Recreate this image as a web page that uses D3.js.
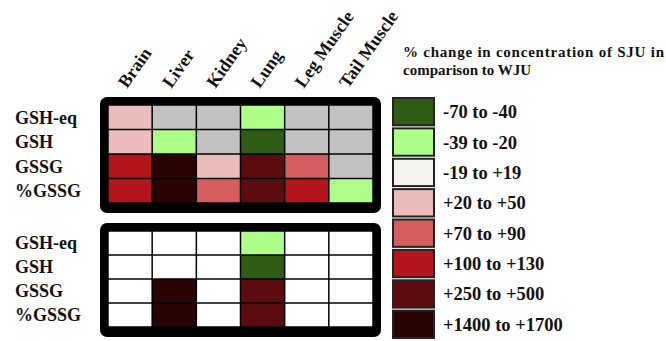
<!DOCTYPE html>
<html>
<head>
<meta charset="utf-8">
<script src="https://cdn.jsdelivr.net/npm/d3@7"></script>
</head>
<body style="margin:0">
<div id="chart"></div>
<script>
// data
var tissues = ["Brain", "Liver", "Kidney", "Lung", "Leg Muscle", "Tail Muscle"];
var measures = ["GSH-eq", "GSH", "GSSG", "%GSSG"];
var legendLabels = ["-70 to -40", "-39 to -20", "-19 to +19", "+20 to +50",
  "+70 to +90", "+100 to +130", "+250 to +500", "+1400 to +1700"];
var legendColors = ["#2e5c14", "#aeff8a", "#f4f3ee", "#ecbcbd",
  "#d55d5e", "#b2151b", "#5c0c0e", "#2a0304"];

// top panel: legend class per cell ("ns" = grey)
var topGSHeq = ["+20 to +50", "ns", "ns", "-39 to -20", "ns", "ns"];
var topGSH   = ["+20 to +50", "-39 to -20", "ns", "-70 to -40", "ns", "ns"];
var topGSSG  = ["+100 to +130", "+1400 to +1700", "+20 to +50", "+250 to +500", "+70 to +90", "ns"];
var topPGSSG = ["+100 to +130", "+1400 to +1700", "+70 to +90", "+250 to +500", "+100 to +130", "-39 to -20"];

// bottom panel ("none" = white)
var botGSHeq = ["none", "none", "none", "-39 to -20", "none", "none"];
var botGSH   = ["none", "none", "none", "-70 to -40", "none", "none"];
var botGSSG  = ["none", "+1400 to +1700", "none", "+250 to +500", "none", "none"];
var botPGSSG = ["none", "+1400 to +1700", "none", "+250 to +500", "none", "none"];

var width = 666, height = 341;

var svg = d3.select("#chart").append("svg")
  .attr("width", width)
  .attr("height", height);

var color = d3.scaleOrdinal()
  .domain(legendLabels.concat(["ns", "none"]))
  .range(legendColors.concat(["#c2c2c2", "#ffffff"]));

var x = d3.scaleBand()
  .domain(tissues)
  .range([108, 373]);

function label(sel, size) {
  return sel.attr("font-family", "'Liberation Serif'")
    .attr("font-weight", "bold")
    .attr("font-size", size)
    .attr("fill", "#111");
}

function toCells(rows) {
  var cells = [];
  rows.forEach(function(row, i) {
    row.forEach(function(v, j) {
      cells.push({measure: measures[i], tissue: tissues[j], value: v});
    });
  });
  return cells;
}

function drawPanel(rows, top, bottom) {
  var y = d3.scaleBand()
    .domain(measures)
    .range([top, bottom]);

  var g = svg.append("g");

  // thick black frame
  g.append("rect")
    .attr("x", x.range()[0] - 8)
    .attr("y", top - 8)
    .attr("width", x.range()[1] - x.range()[0] + 16)
    .attr("height", bottom - top + 18)
    .attr("rx", 7)
    .attr("fill", "#000");

  g.selectAll("rect.cell")
    .data(toCells(rows))
    .enter().append("rect")
    .attr("class", "cell")
    .attr("x", function(d) { return x(d.tissue) + 0.75; })
    .attr("y", function(d) { return y(d.measure) + 0.75; })
    .attr("width", x.bandwidth() - 1.5)
    .attr("height", y.bandwidth() - 1.5)
    .attr("fill", function(d) { return color(d.value); });

  g.selectAll("text.row")
    .data(measures)
    .enter().append("text")
    .attr("class", "row")
    .attr("x", 15)
    .attr("y", function(d) { return y(d) + y.bandwidth() / 2; })
    .attr("dy", "0.35em")
    .call(label, 18)
    .text(function(d) { return d; });
}

drawPanel([topGSHeq, topGSH, topGSSG, topPGSSG], 105, 203);
drawPanel([botGSHeq, botGSH, botGSSG, botPGSSG], 231, 327);

// column labels
svg.selectAll("text.col")
  .data(tissues)
  .enter().append("text")
  .attr("class", "col")
  .attr("transform", function(d) {
    return "translate(" + (x(d) + x.bandwidth() / 2 - 3) + ",89) rotate(-55)";
  })
  .call(label, 18)
  .text(function(d) { return d; });

// legend
var ly = d3.scaleBand()
  .domain(legendLabels)
  .range([98, 338])
  .paddingInner(0.1);

var legend = svg.append("g");

legend.selectAll("rect")
  .data(legendLabels)
  .enter().append("rect")
  .attr("x", 393)
  .attr("y", function(d) { return ly(d); })
  .attr("width", 41)
  .attr("height", ly.bandwidth())
  .attr("fill", function(d) { return color(d); })
  .attr("stroke", "#222")
  .attr("stroke-width", 2);

legend.selectAll("text")
  .data(legendLabels)
  .enter().append("text")
  .attr("x", 443)
  .attr("y", function(d) { return ly(d) + ly.bandwidth() / 2; })
  .attr("dy", "0.35em")
  .call(label, 18.5)
  .text(function(d) { return d; });

// legend title
svg.append("text")
  .attr("x", 403)
  .attr("y", 57)
  .attr("textLength", 261)
  .attr("lengthAdjust", "spacing")
  .call(label, 15)
  .text("% change in concentration of SJU in");

svg.append("text")
  .attr("x", 403)
  .attr("y", 75)
  .call(label, 15)
  .text("comparison to WJU");
</script>
</body>
</html>
